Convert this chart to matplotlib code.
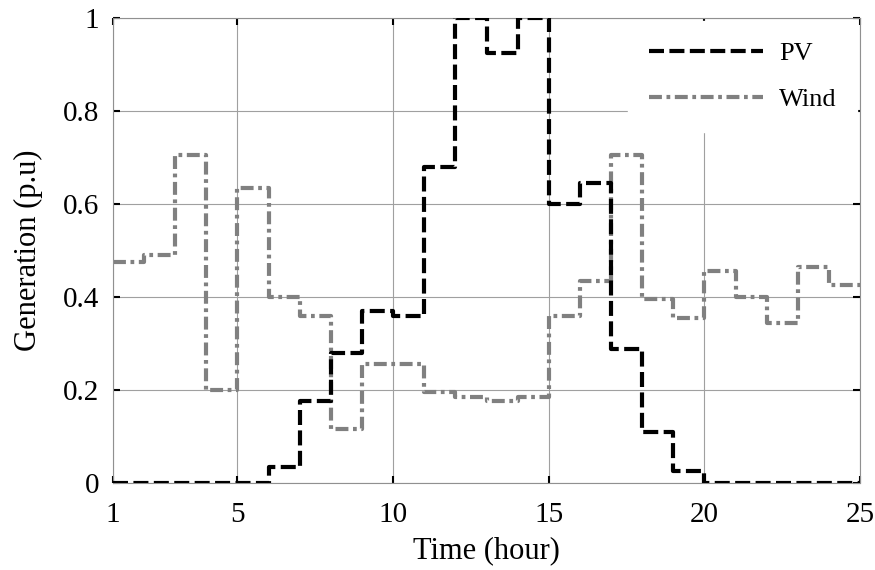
import numpy as np
from matplotlib import pyplot as plt

plt.rcParams['font.family'] = ['Liberation Serif', 'DejaVu Serif']

# hourly values, hour 1..24 (each held for one hour)
hours = np.arange(1, 26)
pv = [0, 0, 0, 0, 0, 0.035, 0.175, 0.28, 0.37, 0.36, 0.68, 1.0,
      0.925, 1.0, 0.6, 0.645, 0.288, 0.11, 0.025, 0, 0, 0, 0, 0]
wind = [0.475, 0.49, 0.705, 0.20, 0.635, 0.40, 0.36, 0.115, 0.255, 0.255,
        0.195, 0.185, 0.175, 0.185, 0.36, 0.435, 0.705, 0.395, 0.355,
        0.455, 0.40, 0.343, 0.465, 0.425]
xticks = [1, 5, 10, 15, 20, 25]
yticks = [0, 0.2, 0.4, 0.6, 0.8, 1]
yticklabels = ['0', '0.2', '0.4', '0.6', '0.8', '1']

fig = plt.figure(figsize=(8.75, 5.7), dpi=100)
ax = fig.add_axes([0.129, 0.153, 0.854, 0.815])

pv_s = pv + [pv[-1]]
wind_s = wind + [wind[-1]]
ax.plot(hours, pv_s, drawstyle='steps-post', color='black', lw=3,
        dashes=[3.6, 1.3], label='PV', zorder=3)
ax.plot(hours, wind_s, drawstyle='steps-post', color='#808080', lw=3,
        dashes=[3.1, 1.1, 0.9, 1.1], label='Wind', zorder=2)

ax.set_xlim(1, 25)
ax.set_ylim(0, 1)
ax.set_xticks(xticks)
ax.set_yticks(yticks)
ax.set_yticklabels(yticklabels)
ax.grid(True, color='#a0a0a0', lw=0.8)
ax.set_axisbelow(True)
for s in ax.spines.values():
    s.set_color('#909090')
    s.set_linewidth(0.8)
ax.tick_params(direction='in', length=5, width=1.5, colors='black',
               top=True, right=True, labelsize=21)
ax.tick_params(axis='x', pad=14)
ax.tick_params(axis='y', pad=10)
ax.set_xlabel('Time (hour)', fontsize=22, labelpad=6)
ax.set_ylabel('Generation (p.u)', fontsize=22, labelpad=14)

leg = ax.legend(loc='upper right', frameon=True, fontsize=19, handlelength=4.3,
                borderpad=0.8, labelspacing=0.85, handletextpad=0.6,
                borderaxespad=0.1, fancybox=False)
leg.get_frame().set_edgecolor('white')
leg.get_frame().set_facecolor('white')
leg.get_frame().set_alpha(1)

fig.savefig('out.png', dpi=100)
